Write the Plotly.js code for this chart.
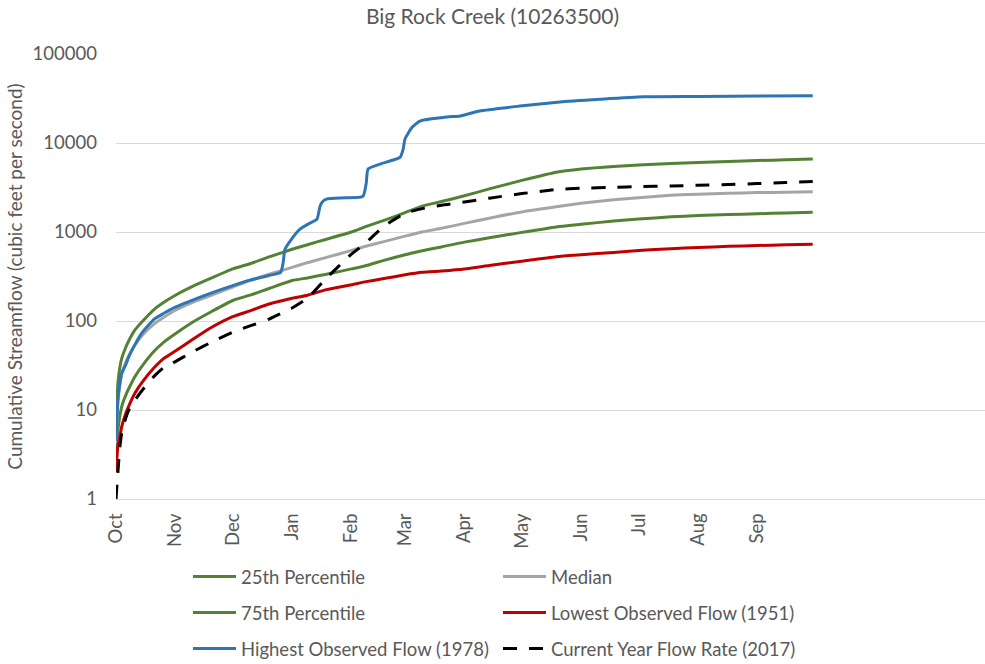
<!DOCTYPE html>
<html>
<head>
<meta charset="utf-8">
<script src="https://cdn.plot.ly/plotly-3.0.1.min.js"></script>
<style>
  html, body { margin: 0; padding: 0; background: #ffffff; }
  #chart { width: 985px; height: 664px; }
</style>
</head>
<body>
<div id="chart"></div>
<script>
// Day of water year (0 = Oct 1) for the sampled points
const days = [0,1,2,3,5,7,10,14,20,25,31,40,50,61,70,80,92,100,110,123,130,140,151,160,170,182,195,212,230,243,260,273,290,304,320,335,350,364];

// Cumulative streamflow, cubic feet per second
const pct25 = [3.5,6,8.5,11,14.5,18,24,32,46,58,72,97,128,170,195,232,285,305,335,385,415,480,555,615,680,770,860,990,1140,1220,1330,1400,1480,1530,1570,1600,1640,1670];
const median = [4.2,12,19,25,34,42,54,70,93,110,132,162,195,240,285,335,400,452,518,621,687,780,898,1000,1100,1250,1430,1680,1920,2100,2300,2430,2590,2660,2720,2770,2800,2830];
const pct75 = [5,20,30,38,50,62,80,100,135,162,195,245,305,385,440,525,640,720,830,1000,1140,1350,1650,1950,2200,2550,3050,3800,4700,5100,5450,5650,5880,6050,6200,6350,6480,6600];
const lowest1951 = [2.0,4,5,6.5,9,11.5,15.6,21,30,38,46,62,85,112,130,155,180,195,225,255,275,300,330,352,365,385,420,470,528,555,590,620,650,670,690,705,718,728];
const current2017 = [1,2,3.8,5.5,8,10.3,13,17,24,30,35,45,58,75,88,105,140,180,304,564,740,1160,1620,1830,2000,2170,2400,2700,3000,3100,3180,3230,3290,3350,3420,3500,3600,3700];

// The 1978 record year has sharp storm steps, so it gets its own sample days
const highestDays = [0,1,2,3,5,7,10,14,20,25,31,40,50,61,70,80,86,87.3,88.3,92,96,101,105,106.6,108,110,120,129,130.7,131.7,138,148.5,150,151,154.7,159,173,180,190,211,232,253,275.5,305,337,364];
const highest1978 = [4.5,13,20,26,32,41,55,76,105,122,143,172,207,250,288,325,352,450,640,850,1073,1250,1393,1950,2200,2340,2420,2520,3500,5100,5800,6950,8500,11100,15000,17700,19600,20150,22900,26000,28950,31000,33000,33300,33800,33900];

// Month axis labels
const monthStarts = [0,31,61,92,123,151,182,212,243,273,304,335];
const monthNames = ['Oct','Nov','Dec','Jan','Feb','Mar','Apr','May','Jun','Jul','Aug','Sep'];

const yTicks = [1,10,100,1000,10000,100000];
const yTickText = ['1','10','100','1000','10000','100000'];

const textColor = '#595959';
const fontFamily = 'Lato, "Open Sans", sans-serif';

function series(name, x, y, color, legendId, dash) {
  return {
    type: 'scatter', mode: 'lines', name: name, x: x, y: y,
    line: { color: color, width: 3, shape: 'spline', smoothing: 0.5, dash: dash || 'solid' },
    legend: legendId, hoverinfo: 'x+y+name'
  };
}

const traces = [
  series('25th Percentile', days, pct25, '#548235', 'legend'),
  series('Median', days, median, '#a5a5a5', 'legend2'),
  series('75th Percentile', days, pct75, '#548235', 'legend3'),
  series('Lowest Observed Flow (1951)', days, lowest1951, '#c00000', 'legend4'),
  series('Highest Observed Flow (1978)', highestDays, highest1978, '#2e75b6', 'legend5'),
  series('Current Year Flow Rate (2017)', days, current2017, '#000000', 'legend6', '14px,12px')
];

const W = 985, H = 664;

// One single-entry legend per slot of the two-column key, placed in page pixels
function legendSlot(xPix, yPix) {
  return {
    orientation: 'h',
    xref: 'container', x: xPix / W, xanchor: 'left',
    yref: 'container', y: 1 - yPix / H, yanchor: 'middle',
    itemwidth: 43,
    font: { family: fontFamily, size: 18.5, color: textColor },
    bgcolor: 'rgba(0,0,0,0)'
  };
}
const col1 = 188, col2 = 498;
const rows = [577, 613, 649];

const layout = {
  width: W, height: H,
  margin: { l: 116, r: 0, t: 54, b: 165 },
  paper_bgcolor: '#ffffff', plot_bgcolor: '#ffffff',
  font: { family: fontFamily, size: 18.5, color: textColor },
  title: {
    text: 'Big Rock Creek (10263500)',
    font: { family: fontFamily, size: 21, color: textColor },
    x: 0.5, xanchor: 'center', xref: 'container',
    y: 1 - 17 / H, yanchor: 'middle', yref: 'container'
  },
  xaxis: {
    range: [0, 454], tickmode: 'array', tickvals: monthStarts, ticktext: monthNames,
    tickangle: -90, showgrid: false, zeroline: false,
    showline: true, linecolor: '#d9d9d9', linewidth: 1,
    ticks: '', ticklabelstandoff: 6,
    tickfont: { family: fontFamily, size: 18.5, color: textColor }
  },
  yaxis: {
    type: 'log', range: [0, 5], tickmode: 'array', tickvals: yTicks, ticktext: yTickText,
    showgrid: true, gridcolor: '#d9d9d9', gridwidth: 1, zeroline: false, showline: false,
    ticks: '', ticklabelstandoff: 18,
    tickfont: { family: fontFamily, size: 18.5, color: textColor },
    title: { text: 'Cumulative Streamflow (cubic feet per second)', standoff: 4,
             font: { family: fontFamily, size: 19, color: textColor } }
  },
  showlegend: true,
  legend: legendSlot(col1, rows[0]),
  legend2: legendSlot(col2, rows[0]),
  legend3: legendSlot(col1, rows[1]),
  legend4: legendSlot(col2, rows[1]),
  legend5: legendSlot(col1, rows[2]),
  legend6: legendSlot(col2, rows[2])
};

Plotly.newPlot('chart', traces, layout, { displayModeBar: false, staticPlot: true });
</script>
</body>
</html>
